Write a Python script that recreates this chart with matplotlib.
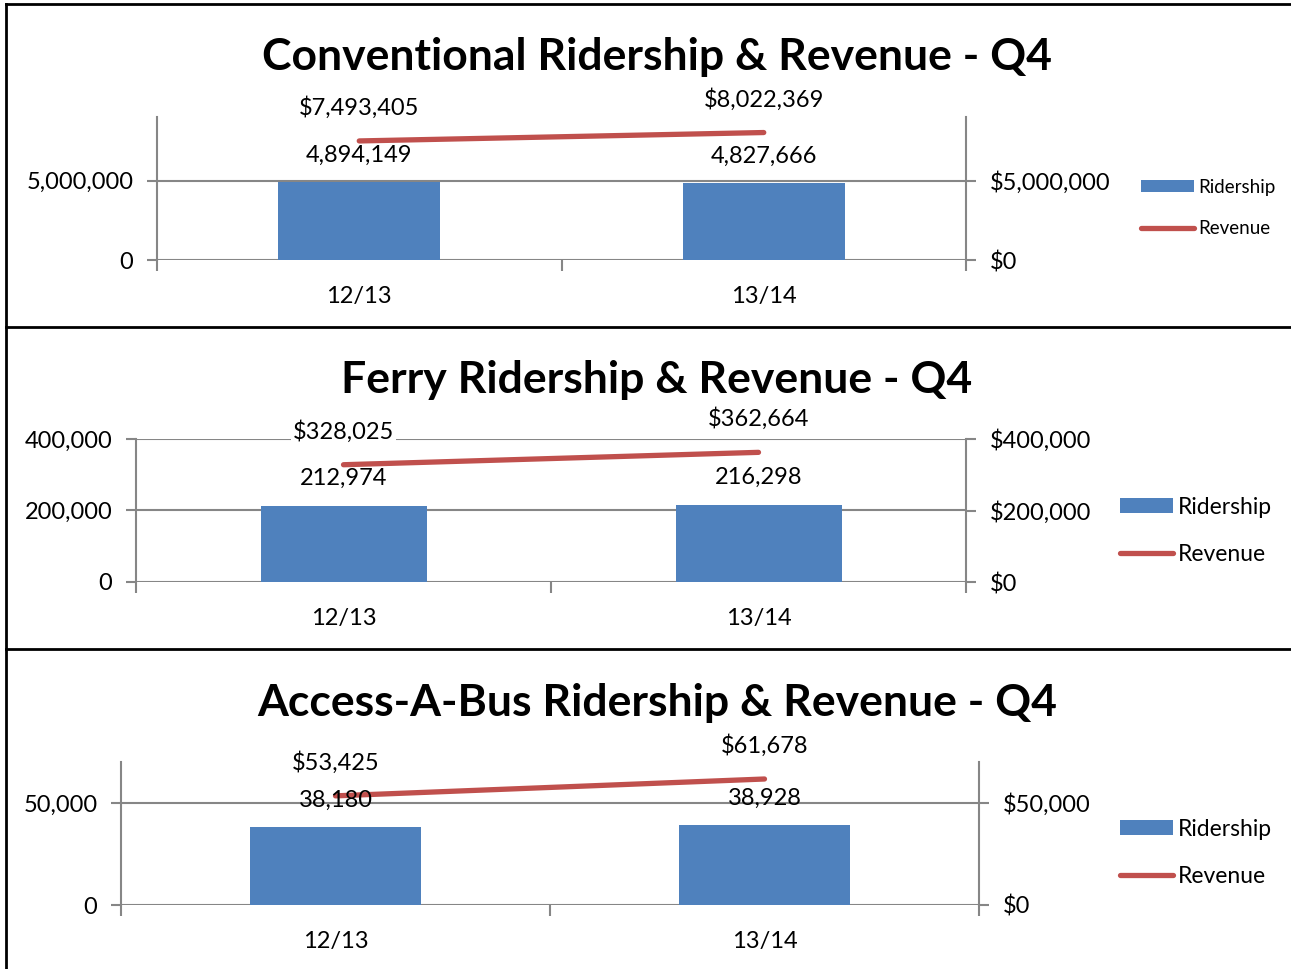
import numpy as np
import matplotlib
matplotlib.use("Agg")
import matplotlib.pyplot as plt
from matplotlib.lines import Line2D
from matplotlib.patches import Patch
from matplotlib.ticker import FuncFormatter

plt.rcParams["font.family"] = ["Lato", "DejaVu Sans"]

categories = ["12/13", "13/14"]

conv_ridership = [4894149, 4827666]
conv_revenue = [7493405, 8022369]

ferry_ridership = [212974, 216298]
ferry_revenue = [328025, 362664]

aab_ridership = [38180, 38928]
aab_revenue = [53425, 61678]

titles = ["Conventional Ridership & Revenue - Q4",
          "Ferry Ridership & Revenue - Q4",
          "Access-A-Bus Ridership & Revenue - Q4"]

BLUE = "#4F81BD"
RED = "#C0504D"
GRAY = "#868686"

W, H = 1291, 969
fig = plt.figure(figsize=(W / 100, H / 100), dpi=100)


def fx(px):
    return px / W


def fy(py):
    return 1 - py / H


# panel layout in pixels
panels = [
    dict(rid=conv_ridership, rev=conv_revenue, l=157, r=966, t=117, b=260, ymax=9000000,
         ticks=[0, 5000000], ty=57, lx=1141, ly=208, lfs=13.5, lsp=1.32, box=False),
    dict(rid=ferry_ridership, rev=ferry_revenue, l=136, r=966, t=439, b=582, ymax=400000,
         ticks=[0, 200000, 400000], ty=380, lx=1120, ly=531, lfs=16.5, lsp=1.15, box=True),
    dict(rid=aab_ridership, rev=aab_revenue, l=121, r=979, t=762, b=905, ymax=70000,
         ticks=[0, 50000], ty=703, lx=1120, ly=853, lfs=16.5, lsp=1.15, box=False),
]

x = np.arange(len(categories))

for p, title in zip(panels, titles):
    ax = fig.add_axes([fx(p["l"]), fy(p["b"]), fx(p["r"] - p["l"]), (p["b"] - p["t"]) / H])
    ax2 = ax.twinx()

    ax.bar(x, p["rid"], width=0.4, color=BLUE, zorder=2)
    ax2.plot(x, p["rev"], color=RED, lw=3.8, solid_capstyle="round", zorder=3)

    for ax_ in (ax, ax2):
        ax_.set_xlim(-0.5, 1.5)
        ax_.set_ylim(0, p["ymax"])
        ax_.set_yticks(p["ticks"])
        for s in ax_.spines.values():
            s.set_visible(False)

    ax.spines["left"].set_visible(True)
    ax.spines["left"].set_color(GRAY)
    ax.spines["left"].set_linewidth(1.5)
    ax2.spines["right"].set_visible(True)
    ax2.spines["right"].set_color(GRAY)
    ax2.spines["right"].set_linewidth(1.5)

    ax.yaxis.set_major_formatter(FuncFormatter(lambda v, _: f"{v:,.0f}"))
    ax2.yaxis.set_major_formatter(FuncFormatter(lambda v, _: f"${v:,.0f}"))
    ax.tick_params(axis="y", length=7, width=1.5, color=GRAY, labelsize=17, pad=10)
    ax2.tick_params(axis="y", length=7, width=1.5, color=GRAY, labelsize=17, pad=10)

    ax.yaxis.grid(True, color=GRAY, lw=1.5, zorder=0)
    ax.set_axisbelow(True)

    ax.set_xticks(x)
    ax.set_xticklabels(categories)
    ax.set_xticks([-0.5, 0.5, 1.5], minor=True)
    ax.tick_params(axis="x", which="major", length=0, labelsize=17, pad=19)
    ax.tick_params(axis="x", which="minor", length=8, width=1.5, color=GRAY)

    # both axes use the same scale, so all data labels go on the top axes
    for xi, v in zip(x, p["rid"]):
        ax2.annotate(f"{v:,.0f}", (xi, v), xytext=(0, 19.5), textcoords="offset points",
                     ha="center", va="center", fontsize=17, zorder=5)
    for xi, v in zip(x, p["rev"]):
        bbox = dict(facecolor="white", edgecolor="none", pad=1) if p["box"] else None
        ax2.annotate(f"${v:,.0f}", (xi, v), xytext=(0, 24), textcoords="offset points",
                     ha="center", va="center", fontsize=17, bbox=bbox, zorder=5)

    handles = [Patch(facecolor=BLUE, edgecolor="none"),
               Line2D([], [], color=RED, lw=3.8, solid_capstyle="round")]
    fs_px = p["lfs"] * 100 / 72
    ax.legend(handles, ["Ridership", "Revenue"], loc="center left",
              bbox_to_anchor=(fx(p["lx"]), fy(p["ly"])), bbox_transform=fig.transFigure,
              frameon=False, fontsize=p["lfs"], handlelength=53 / fs_px, handleheight=0.6,
              handletextpad=0.2, labelspacing=p["lsp"], borderpad=0, borderaxespad=0)

    fig.text(fx(657), fy(p["ty"]), title, ha="center", va="center",
             fontsize=32, fontweight="bold")

# panel frames
for yy in [4, 327, 649]:
    fig.add_artist(Line2D([fx(6), 1], [fy(yy), fy(yy)], color="black", lw=2))
fig.add_artist(Line2D([fx(6), fx(6)], [fy(4), 0], color="black", lw=2))

fig.savefig("out.png", dpi=100)
